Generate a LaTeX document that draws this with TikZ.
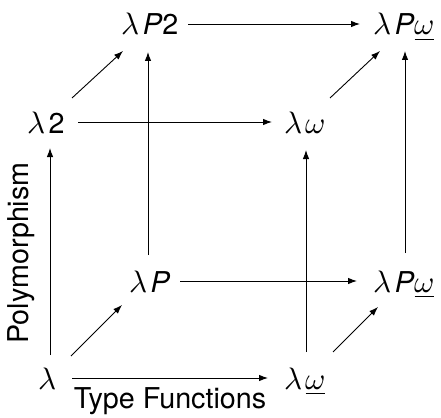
\documentclass[tikz,border=0pt]{standalone}
\usepackage{fontspec}
\usepackage{unicode-math}
\setmainfont{TeX Gyre Heros}
\setmathfont{Latin Modern Math}
\usetikzlibrary{arrows.meta,calc}
\newcommand{\mylam}{{\fontsize{31}{36}\selectfont$\lambda$}\kern3pt}
\newcommand{\myom}{{\fontsize{31}{36}\selectfont$\omega$}}
\newcommand{\myomu}{{\fontsize{31}{36}\selectfont$\underline{\omega}$}}
\begin{document}
\begin{tikzpicture}[x=1pt,y=-1pt,
  lab/.style={anchor=base,inner sep=0pt,font=\fontsize{28.7}{34}\selectfont},
  arr/.style={-{Latex[length=9pt,width=6.5pt]},line width=0.9pt}]
\useasboundingbox (0,0) rectangle (441,417);
% nodes (base points)
\node[lab] (l)    at (48,389)  {{\fontsize{31}{36}\selectfont$\lambda$}};
\node[lab] (lwu)  at (305,389) {\mylam\myomu};
\node[lab] (lP)   at (150,292) {\mylam\textit{P}};
\node[lab] (lPwu) at (404,292) {\mylam\textit{P}\myomu};
\node[lab] (l2)   at (46,133)  {\mylam 2};
\node[lab] (lw)   at (305,133) {\mylam\myom};
\node[lab] (lP2)  at (150,35)  {\mylam\textit{P}2};
\node[lab] (lPw)  at (404,35)  {\mylam\textit{P}\myomu};
% axis labels
\node[lab,rotate=90] (poly) at (28,253) {Polymorphism};
\node[lab] (tf) at (170,408) {Type Functions};
% arrows
\draw[arr] ($(l.base)+(24,-11)$)   -- ($(lwu.base)+(-37,-11)$);
\draw[arr] ($(l.base)+(2,-34)$)    -- ($(l2.base)+(4,15)$);
\draw[arr] ($(l.base)+(23,-33)$)   -- ($(lP.base)+(-28,13)$);
\draw[arr] ($(lwu.base)+(1,-37)$)  -- ($(lw.base)+(1,17)$);
\draw[arr] ($(lwu.base)+(28,-37)$) -- ($(lPwu.base)+(-26,15)$);
\draw[arr] ($(lP.base)+(30,-11)$)  -- ($(lPwu.base)+(-47,-11)$);
\draw[arr] ($(lP.base)+(-2,-37)$)  -- ($(lP2.base)+(-2,17)$);
\draw[arr] ($(lPwu.base)+(1,-39)$) -- ($(lPw.base)+(1,16)$);
\draw[arr] ($(l2.base)+(26,-35)$)  -- ($(lP2.base)+(-27,16)$);
\draw[arr] ($(l2.base)+(32,-11)$)  -- ($(lw.base)+(-33,-11)$);
\draw[arr] ($(lw.base)+(25,-35)$)  -- ($(lPw.base)+(-24,16)$);
\draw[arr] ($(lP2.base)+(38,-11)$) -- ($(lPw.base)+(-44,-11)$);
\end{tikzpicture}
\end{document}
